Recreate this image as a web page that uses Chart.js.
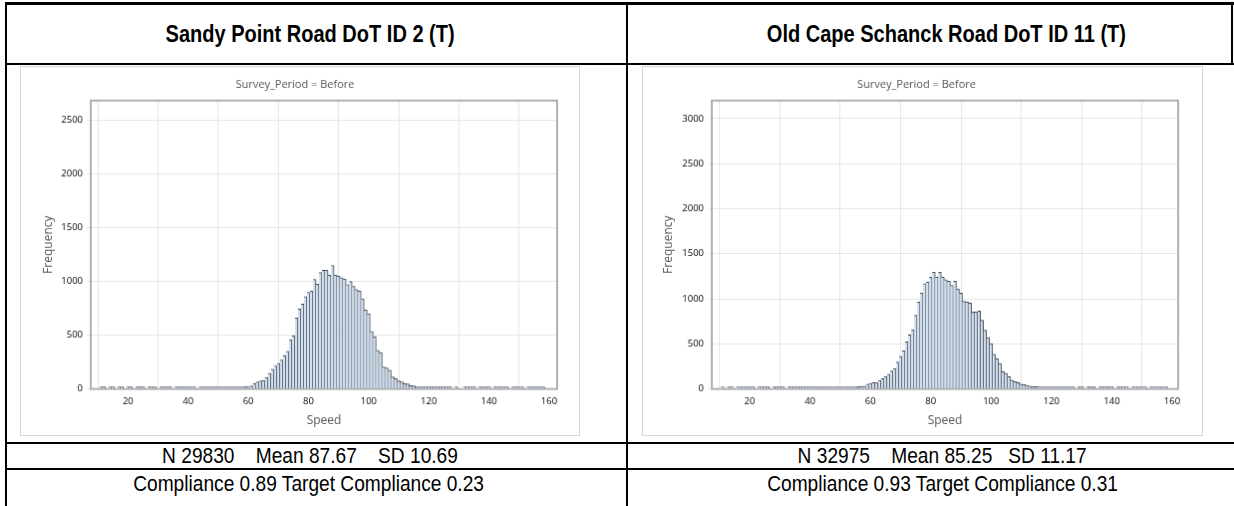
<!DOCTYPE html>
<html>
<head>
<meta charset="utf-8">
<script src="https://cdn.jsdelivr.net/npm/chart.js@4.4.1/dist/chart.umd.min.js"></script>
<style>
body{margin:0;background:#fff;width:1234px;height:506px;overflow:hidden;position:relative;font-family:"Liberation Sans",Arial,sans-serif;}
.ln{position:absolute;background:#000;}
.txt{position:absolute;text-align:center;color:#000;white-space:pre;}
.txt span{display:inline-block;transform:scaleX(0.87);}
.hd{font-weight:bold;font-size:23px;}
.st{font-size:22px;}
.box{position:absolute;border:1px solid #d6d6d6;}
</style>
</head>
<body>
<div class="ln" style="left:5px;top:2px;width:1229px;height:3px"></div>
<div class="ln" style="left:5px;top:2px;width:2px;height:504px"></div>
<div class="ln" style="left:5px;top:63px;width:1229px;height:2px"></div>
<div class="ln" style="left:626px;top:2px;width:2px;height:504px"></div>
<div class="ln" style="left:1231px;top:2px;width:2px;height:63px"></div>
<div class="ln" style="left:5px;top:442px;width:1229px;height:2px"></div>
<div class="ln" style="left:5px;top:468px;width:1229px;height:2px"></div>

<div class="txt hd" style="left:10px;width:600px;top:5px;height:59px;line-height:59px"><span>Sandy Point Road DoT ID 2 (T)</span></div>
<div class="txt hd" style="left:646px;width:600px;top:5px;height:59px;line-height:59px"><span>Old Cape Schanck Road DoT ID 11 (T)</span></div>
<div class="txt st" style="left:10px;width:600px;top:444px;height:24px;line-height:24px"><span>N 29830    Mean 87.67    SD 10.69</span></div>
<div class="txt st" style="left:642px;width:600px;top:444px;height:24px;line-height:24px"><span>N 32975    Mean 85.25   SD 11.17</span></div>
<div class="txt st" style="left:9px;width:600px;top:470px;height:27px;line-height:27px"><span>Compliance 0.89 Target Compliance 0.23</span></div>
<div class="txt st" style="left:643px;width:600px;top:470px;height:27px;line-height:27px"><span>Compliance 0.93 Target Compliance 0.31</span></div>

<canvas id="sandy" class="box" width="560" height="370" style="left:20px;top:66px"></canvas>
<canvas id="cape" class="box" width="561" height="370" style="left:642px;top:66px"></canvas>

<script>
// first speed bin (km/h), one bin per km/h
const binStart = 11;

// Sandy Point Road, bins 11..158
const sandyCounts = [
  1,1,0,1,1,0,1,1,0,1, 1,0,1,1,1,0,1,1,1,0, 1,1,1,1,0,1,1,2,1,1, 2,1,0,2,1,2,2,3,2,3, 4,8,6,8,10,9,12,18,
  25,20,30,50,65,75,78,105,145,185,215,237,270,310,350,460,495,660,745,790,860,900,910,1020,975,1085,1105,1105,1060,1150,
  1060,1050,1035,1025,970,1000,955,925,910,840,735,700,535,485,360,340,205,195,175,112,97,75,65,50,47,31,28,19,16,12,16,6,12,6,3,2,
  1,2,1,0,1,0,0,1,1,1,1,0,1,1,1,1,0,1,1,1,1,1,0,1,1,1,1,0,1,1,1,1,1,1
];

// Old Cape Schanck Road, bins 11..158
const capeCounts = [
  1,0,1,1,0,1,1,1,1,8, 1,0,1,1,1,1,0,1,1,1, 1,0,1,1,1,1,1,2,1,1, 2,2,1,2,2,3,4,
  10,12,12,13,14,15,18,24,26,28,
  33,55,62,70,74,96,114,136,165,199,228,298,364,423,522,600,659,817,964,1063,1167,1185,1240,1295,1240,1295,1240,
  1211,1196,1148,1196,1111,1063,971,964,953,854,854,865,762,651,570,504,386,339,283,191,173,136,99,81,70,55,48,40,33,26,26,18,15,10,10,10,
  6,5,4,2,3,1,3,0,1,1,0,1,1,1,0,1,1,1,1,1,0,1,1,1,1,0,1,1,1,1,1,0,1,1,1,1,1,1
];

const speedTicks = [20, 40, 60, 80, 100, 120, 140, 160];
const sandyFreqTicks = [0, 500, 1000, 1500, 2000, 2500];
const capeFreqTicks = [0, 500, 1000, 1500, 2000, 2500, 3000];

const sandyRange = {xMin: 7.64, xMax: 162.65, yMax: 2685};
const capeRange = {xMin: 7.45, xMax: 161.98, yMax: 3200};

const chartFont = '"Open Sans", "DejaVu Sans", sans-serif';

const frame = {
  id: 'frame',
  beforeDatasetsDraw(chart) {
    const {ctx, chartArea: a} = chart;
    ctx.save();
    ctx.strokeStyle = '#b0b0b0';
    ctx.lineWidth = 2;
    ctx.strokeRect(a.left, a.top, a.right - a.left, a.bottom - a.top);
    ctx.restore();
  }
};

function histogram(id, counts, range, freqTicks, yWidth, rightPad, yTitlePad) {
  const points = counts.map((c, i) => ({x: binStart + i, y: c === 0 ? null : c}));
  return new Chart(document.getElementById(id), {
    type: 'bar',
    data: {
      datasets: [{
        data: points,
        backgroundColor: '#d2dfee',
        borderColor: '#3f4651',
        borderWidth: {top: 1, right: 1, bottom: 0, left: 0},
        borderSkipped: false,
        barPercentage: 1,
        categoryPercentage: 1,
        minBarLength: 2
      }]
    },
    options: {
      responsive: false,
      animation: false,
      layout: {padding: {top: 11, right: rightPad, bottom: 0, left: 12}},
      plugins: {
        legend: {display: false},
        tooltip: {enabled: false},
        title: {
          display: true,
          text: 'Survey_Period = Before',
          color: '#555',
          font: {family: chartFont, size: 11, weight: 'normal'},
          padding: {top: 0, bottom: 9.5}
        }
      },
      scales: {
        x: {
          type: 'linear',
          min: range.xMin,
          max: range.xMax,
          offset: false,
          afterBuildTicks: s => { s.ticks = speedTicks.map(v => ({value: v})); },
          afterFit: s => { s.height = 46.3; },
          border: {display: false},
          grid: {color: '#e6e6e6', drawTicks: false},
          ticks: {padding: 7, color: '#000', maxRotation: 0, autoSkip: false,
                  callback: v => String(v), font: {family: chartFont, size: 9.5}},
          title: {display: true, text: 'Speed', color: '#555', padding: {top: 0, bottom: 7.7},
                  font: {family: chartFont, size: 12}}
        },
        y: {
          min: 0,
          max: range.yMax,
          afterBuildTicks: s => { s.ticks = freqTicks.map(v => ({value: v})); },
          afterFit: s => { s.width = yWidth; },
          border: {display: false},
          grid: {color: '#e6e6e6', tickLength: 4},
          ticks: {padding: 4, color: '#000', autoSkip: false,
                  callback: v => String(v), font: {family: chartFont, size: 9.5}},
          title: {display: true, text: 'Frequency', color: '#555', padding: {top: yTitlePad, bottom: 0},
                  font: {family: chartFont, size: 12}}
        }
      }
    },
    plugins: [frame]
  });
}

histogram('sandy', sandyCounts, sandyRange, sandyFreqTicks, 58, 22, 8.7);
histogram('cape', capeCounts, capeRange, capeFreqTicks, 57, 24, 6.7);
</script>
</body>
</html>
